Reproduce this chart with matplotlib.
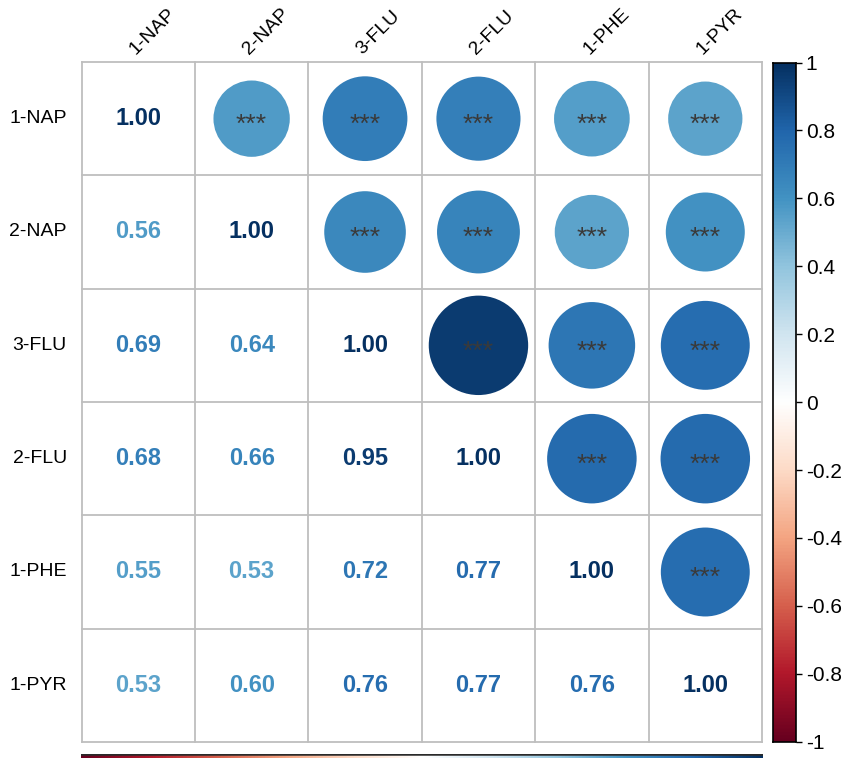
import numpy as np
import matplotlib
matplotlib.use("Agg")
import matplotlib.pyplot as plt
from matplotlib.colors import LinearSegmentedColormap
from matplotlib.patches import Ellipse

plt.rcParams['font.family'] = ['Liberation Sans', 'DejaVu Sans']

labels = ["1-NAP", "2-NAP", "3-FLU", "2-FLU", "1-PHE", "1-PYR"]
# lower-triangle correlations (row i, columns 0..i-1)
lower = [
    [],
    [0.56],
    [0.69, 0.64],
    [0.68, 0.66, 0.95],
    [0.55, 0.53, 0.72, 0.77],
    [0.53, 0.60, 0.76, 0.77, 0.76],
]
stars = "***"
cbar_ticks = [1, 0.8, 0.6, 0.4, 0.2, 0, -0.2, -0.4, -0.6, -0.8, -1]
cbar_ticklabels = ["1", "0.8", "0.6", "0.4", "0.2", "0", "-0.2", "-0.4", "-0.6", "-0.8", "-1"]

n = len(labels)
R = np.eye(n)
for i, row in enumerate(lower):
    for j, v in enumerate(row):
        R[i, j] = v
        R[j, i] = v

cols = ["#67001F", "#B2182B", "#D6604D", "#F4A582", "#FDDBC7", "#FFFFFF",
        "#D1E5F0", "#92C5DE", "#4393C3", "#2166AC", "#053061"]
cmap = LinearSegmentedColormap.from_list("rdbu", cols, N=200)
def col(v):
    return cmap((v + 1) / 2)

W, H = 851, 768
fig = plt.figure(figsize=(W / 100, H / 100), dpi=100)

def fax(x0, y0, x1, y1):
    return fig.add_axes([x0 / W, 1 - y1 / H, (x1 - x0) / W, (y1 - y0) / H])

gx0, gy0, gx1, gy1 = 81.5, 62, 762, 742
ax = fax(gx0, gy0, gx1, gy1)
ax.set_xlim(0, n)
ax.set_ylim(n, 0)
ax.axis("off")

cw = (gx1 - gx0) / n
ch = (gy1 - gy0) / n
sx = ch / cw  # keep circles round

gridc = "#BEBEBE"
for k in range(n + 1):
    ax.plot([k, k], [0, n], color=gridc, lw=1.3, zorder=1, clip_on=False)
    ax.plot([0, n], [k, k], color=gridc, lw=1.3, zorder=1, clip_on=False)

for i in range(n):
    for j in range(n):
        v = R[i, j]
        cx, cy = j + 0.5, i + 0.5
        if j > i:
            d = 0.9 * np.sqrt(abs(v))
            ax.add_patch(Ellipse((cx, cy), d * sx, d, facecolor=col(v),
                                 edgecolor="none", zorder=2))
            ax.text(cx, cy + 0.115, stars, ha="center", va="baseline",
                    fontsize=19, color="#3A3A3A", zorder=3)
        else:
            ax.text(cx, cy, f"{v:.2f}", ha="center", va="center",
                    fontsize=17, fontweight="bold", color=col(v), zorder=3)

for i, lab in enumerate(labels):
    ax.text(-0.13, i + 0.5, lab, ha="right", va="center", fontsize=14, color="black")
    ax.text(i + 0.5, -0.04, lab, ha="left", va="bottom", rotation=45,
            rotation_mode="anchor", fontsize=14, color="black")

# colorbar
cax = fax(773, 62.5, 796, 741.7)
grad = np.linspace(1, -1, 400).reshape(-1, 1)
cax.imshow(grad, aspect="auto", cmap=cmap, vmin=-1, vmax=1, extent=[0, 1, -1, 1])
cax.set_xlim(0, 1)
cax.set_ylim(-1, 1)
cax.set_xticks([])
cax.yaxis.tick_right()
cax.set_yticks(cbar_ticks)
cax.set_yticklabels(cbar_ticklabels)
cax.tick_params(axis="y", length=4, width=1, labelsize=15, pad=3, color="black")
for s in cax.spines.values():
    s.set_color("black")
    s.set_linewidth(1.2)

# thin bottom gradient strip
bax = fax(81, 753.5, 763, 758)
bgrad = np.linspace(-1, 1, 400).reshape(1, -1)
bax.imshow(bgrad, aspect="auto", cmap=cmap, vmin=-1, vmax=1, extent=[0, 1, 0, 1])
bax.axhline(0.8, color="#2A2A2A", lw=1.8)
bax.set_xlim(0, 1)
bax.set_ylim(0, 1)
bax.axis("off")

fig.savefig("out.png", dpi=100, facecolor="white")
